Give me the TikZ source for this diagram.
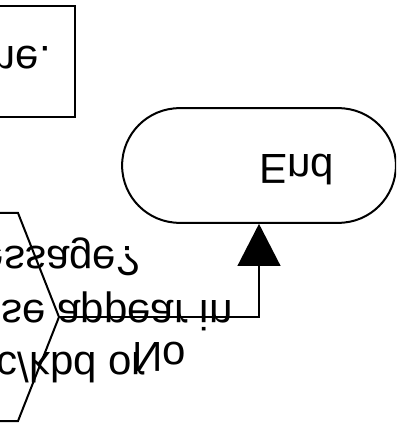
\documentclass[tikz,border=0pt]{standalone}
\usepackage{fontspec}
\setmainfont{Liberation Sans}
\usetikzlibrary{arrows.meta,shapes.misc,positioning}

\tikzset{
  chart/.style={line width=1.5pt, line join=miter},
  flowtext/.style={font=\fontsize{31.5}{38}\selectfont, inner sep=0pt},
  terminal/.style={chart, draw, rounded rectangle, minimum width=212pt, minimum height=86pt},
  flowarrow/.style={chart, -{Triangle[length=31.5pt, width=32pt]}}
}

\begin{document}
\begin{tikzpicture}[x=0.75pt, y=0.75pt, yscale=-1, every node/.append style={transform shape}]
  \useasboundingbox (0,0) rectangle (396,423);
  \clip (0,0) rectangle (396,423);

  % process box, cut at the left
  \draw[chart] (-120,6) rectangle (75,117);
  \node[flowtext, anchor=base east] (boxtext) at (51,47) {me.};

  % decision, cut at the left
  \draw[chart] (-120,213) -- (18,213) -- (59,317) -- (18,421) -- (-120,421);
  \coordinate (decision) at (59,317);
  \node[flowtext, anchor=base east] (ask1) at (140,246) {essage?};
  \node[flowtext, anchor=base east] (ask2) at (233,300) {se appear in};
  \node[flowtext, anchor=base east] (ask3) at (146,352) {c/kbd or};

  % terminal
  \node[terminal] (end) at (259,165.5) {};
  \node[flowtext, anchor=base west] (endtext) at (259,155) {End};

  % no branch
  \draw[flowarrow] (decision) -| (end.north);
  \node[flowtext, anchor=base west] (no) at (132,342) {No};
\end{tikzpicture}
\end{document}
